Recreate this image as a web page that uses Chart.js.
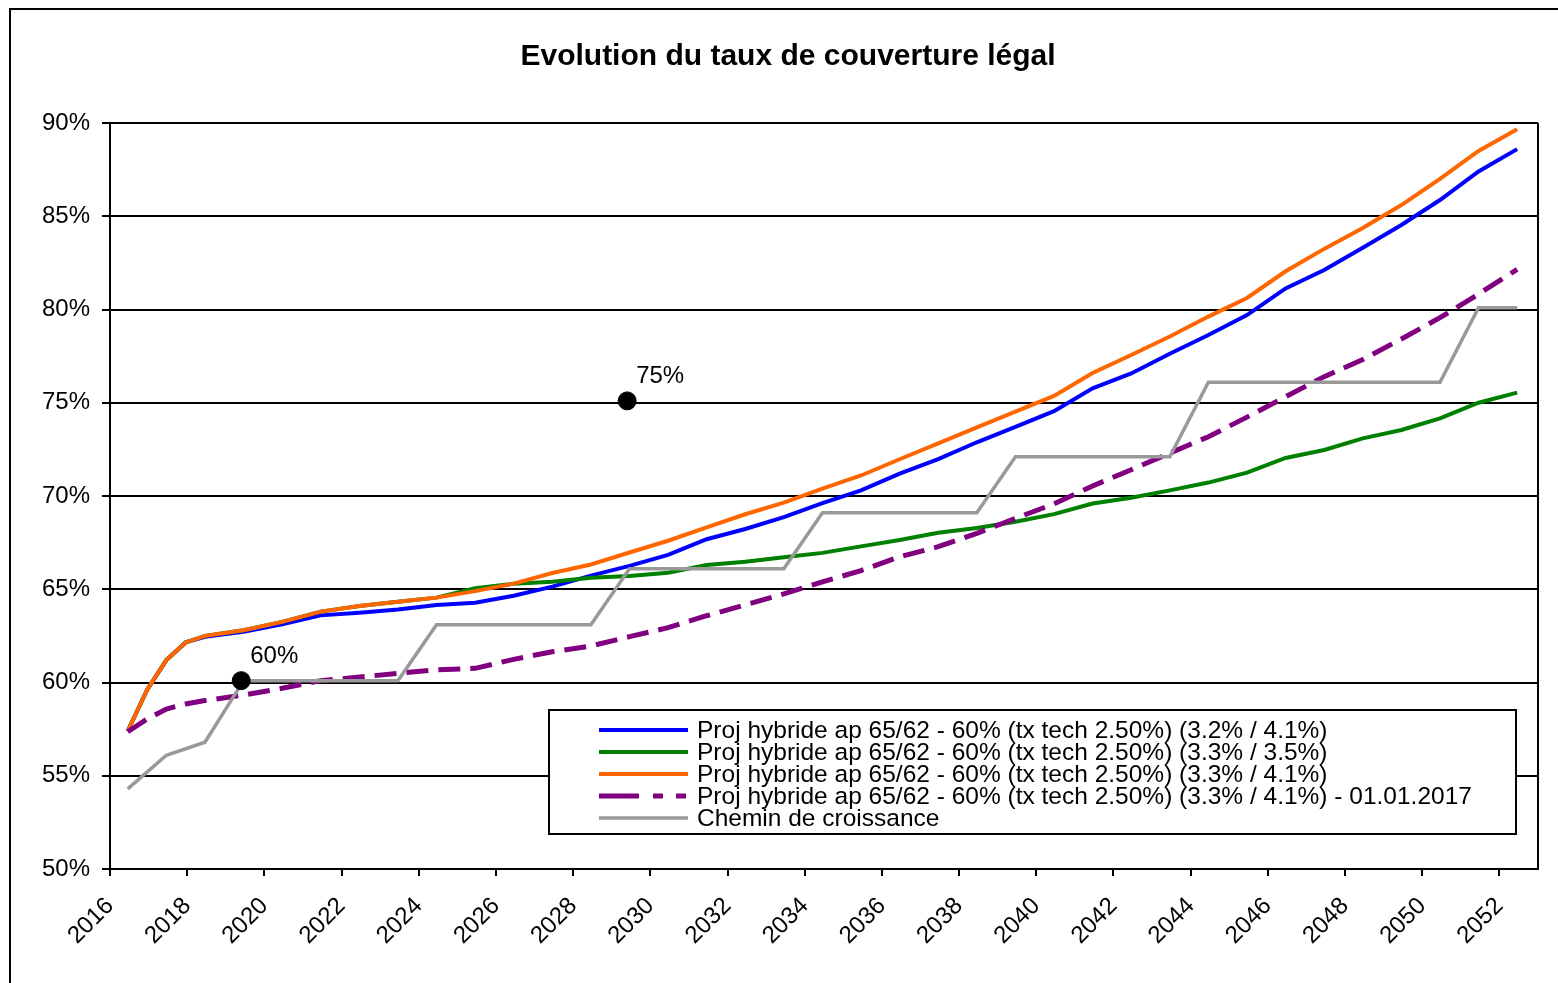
<!DOCTYPE html>
<html><head><meta charset="utf-8">
<script src="https://cdn.jsdelivr.net/npm/chart.js@4.4.1/dist/chart.umd.min.js"></script>
<style>html,body{margin:0;padding:0;background:#fff;}#wrap{width:1558px;height:983px;position:relative;}</style>
</head><body><div id="wrap"><canvas id="c" width="1558" height="983"></canvas></div>
<script>
const TITLE = 'Evolution du taux de couverture légal';
const years = [2016,2017,2018,2019,2020,2021,2022,2023,2024,2025,2026,2027,2028,2029,2030,2031,2032,2033,2034,2035,2036,2037,2038,2039,2040,2041,2042,2043,2044,2045,2046,2047,2048,2049,2050,2051,2052];
const xGrey = years.map(y => y + 0.46);
const xLines = [2016.46, 2016.96, 2017.46, 2017.96].concat(years.slice(2).map(y => y + 0.46));

const seriesLabels = [
  'Proj hybride ap 65/62 - 60% (tx tech 2.50%) (3.2% / 4.1%)',
  'Proj hybride ap 65/62 - 60% (tx tech 2.50%) (3.3% / 3.5%)',
  'Proj hybride ap 65/62 - 60% (tx tech 2.50%) (3.3% / 4.1%)',
  'Proj hybride ap 65/62 - 60% (tx tech 2.50%) (3.3% / 4.1%) - 01.01.2017',
  'Chemin de croissance'
];

const blue = [57.4,59.6,61.2,62.15,62.45,62.72,63.12,63.6,63.74,63.92,64.15,64.28,64.65,65.14,65.73,66.25,66.84,67.68,68.23,68.87,69.62,70.3,71.2,71.98,72.88,73.71,74.55,75.77,76.57,77.63,78.63,79.7,81.13,82.12,83.31,84.53,85.87,87.4,88.6];
const green = [57.4,59.6,61.2,62.15,62.5,62.8,63.25,63.8,64.1,64.33,64.55,65.05,65.3,65.4,65.62,65.71,65.89,66.3,66.47,66.72,66.95,67.3,67.64,68.03,68.28,68.62,69.03,69.6,69.91,70.3,70.72,71.25,72.04,72.47,73.09,73.54,74.16,75.0,75.54];
const orange = [57.4,59.6,61.2,62.15,62.5,62.8,63.25,63.8,64.1,64.33,64.55,64.9,65.3,65.87,66.33,66.97,67.6,68.32,69.02,69.64,70.4,71.1,71.97,72.82,73.68,74.52,75.37,76.6,77.56,78.55,79.62,80.62,82.05,83.25,84.37,85.6,87.0,88.5,89.66];
const purple = [57.36,58.04,58.58,58.85,59.03,59.33,59.69,60.1,60.29,60.49,60.68,60.76,61.24,61.65,61.96,62.46,62.94,63.58,64.16,64.75,65.4,66.0,66.74,67.28,68.0,68.8,69.58,70.54,71.41,72.3,73.18,74.23,75.32,76.4,77.32,78.42,79.56,80.83,82.15];
const grey = [54.3,56.1,56.8,60.1,60.1,60.1,60.1,60.1,63.1,63.1,63.1,63.1,63.1,66.1,66.1,66.1,66.1,66.1,69.1,69.1,69.1,69.1,69.1,72.1,72.1,72.1,72.1,72.1,76.1,76.1,76.1,76.1,76.1,76.1,76.1,80.1,80.1];

const markerX = [2019.4, 2029.4];
const markerY = [60.1, 75.1];
const markerLabels = ['60%', '75%'];

const yTicks = [50,55,60,65,70,75,80,85,90];

const FONT = "'Liberation Sans', Arial, sans-serif";
const pts = (xs, ys) => ys.map((v, i) => ({x: xs[i], y: v}));

const lineDs = (label, xs, ys, color, width, order, extra) => Object.assign({
  label, data: pts(xs, ys), borderColor: color, backgroundColor: color,
  borderWidth: width, pointRadius: 0, tension: 0, fill: false, order
}, extra || {});

const datasets = [
  lineDs(seriesLabels[0], xLines, blue, '#0000FF', 4, 5),
  lineDs(seriesLabels[1], xLines, green, '#008000', 4, 4),
  lineDs(seriesLabels[2], xLines, orange, '#FF6600', 4, 3),
  lineDs(seriesLabels[3], xLines, purple, '#800080', 5, 2, {borderDash: [22, 10], legendDash: [40, 14, 10, 13, 10], borderCapStyle: 'butt'}),
  lineDs(seriesLabels[4], xGrey, grey, '#999999', 3.5, 1),
  {label: 'markers', data: pts(markerX, markerY), showLine: false, pointRadius: 9, pointHoverRadius: 9,
   pointBackgroundColor: '#000', pointBorderColor: '#000', borderColor: '#000', backgroundColor: '#000', order: 0, isMarker: true}
];

const extras = {
  id: 'extras',
  beforeDraw(chart) {
    const ctx = chart.ctx;
    ctx.save();
    ctx.fillStyle = '#fff';
    ctx.fillRect(0, 0, chart.width, chart.height);
    ctx.fillStyle = '#000';
    ctx.fillRect(9, 8, 2, chart.height - 8);
    ctx.fillRect(9, 8, chart.width - 9, 2);
    ctx.font = 'bold 30px ' + FONT;
    ctx.textAlign = 'center';
    ctx.textBaseline = 'middle';
    ctx.fillText(TITLE, 788, 57);
    ctx.restore();
  },
  afterDatasetsDraw(chart) {
    const ctx = chart.ctx, xs = chart.scales.x, ys = chart.scales.y, a = chart.chartArea;
    ctx.save();
    ctx.strokeStyle = '#000';
    ctx.lineWidth = 2;
    ctx.beginPath();
    ctx.moveTo(a.right, a.top); ctx.lineTo(a.right, a.bottom);
    ctx.stroke();
    ctx.fillStyle = '#000';
    ctx.font = '24px ' + FONT;
    ctx.textBaseline = 'alphabetic';
    ctx.textAlign = 'left';
    markerLabels.forEach((t, i) => {
      const px = xs.getPixelForValue(markerX[i]);
      const py = ys.getPixelForValue(markerY[i]);
      ctx.fillText(t, px + 9, py - 18);
    });
    ctx.restore();
  },
  afterDraw(chart) {
    const ctx = chart.ctx;
    const bx = 549, by = 710, bw = 967, bh = 124;
    ctx.save();
    ctx.fillStyle = '#fff';
    ctx.fillRect(bx, by, bw, bh);
    ctx.strokeStyle = '#000';
    ctx.lineWidth = 2;
    ctx.strokeRect(bx, by, bw, bh);
    ctx.font = '24.5px ' + FONT;
    ctx.textBaseline = 'middle';
    ctx.textAlign = 'left';
    let row = 0;
    chart.data.datasets.forEach(ds => {
      if (ds.isMarker) return;
      const yy = by + 20 + row * 22;
      ctx.save();
      ctx.strokeStyle = ds.borderColor;
      ctx.lineWidth = ds.borderWidth;
      ctx.lineCap = 'butt';
      ctx.setLineDash(ds.legendDash || []);
      ctx.beginPath();
      ctx.moveTo(599, yy); ctx.lineTo(688, yy);
      ctx.stroke();
      ctx.restore();
      ctx.fillStyle = '#000';
      ctx.fillText(ds.label, 697, yy + 1);
      row++;
    });
    ctx.restore();
  }
};

new Chart(document.getElementById('c'), {
  type: 'line',
  data: {datasets},
  plugins: [extras],
  options: {
    responsive: false, animation: false, devicePixelRatio: 1,
    layout: {padding: {left: 0, right: 20, top: 123, bottom: 0}},
    plugins: {
      legend: {display: false},
      tooltip: {enabled: false},
      title: {display: false}
    },
    scales: {
      x: {
        type: 'linear', min: 2016, max: 2053,
        afterBuildTicks: s => { s.ticks = years.filter(y => y % 2 === 0).map(v => ({value: v})); },
        afterFit: s => { s.height = 114; },
        ticks: {stepSize: 2, autoSkip: false, maxRotation: 45, minRotation: 45, color: '#000',
                font: {family: FONT, size: 24}, callback: v => String(v), padding: 16},
        grid: {drawOnChartArea: false, drawTicks: true, tickLength: 7, color: '#000', lineWidth: 2},
        border: {display: true, color: '#000', width: 2}
      },
      y: {
        min: 50, max: 90,
        afterBuildTicks: s => { s.ticks = yTicks.map(v => ({value: v})); },
        afterFit: s => { s.width = 110; },
        ticks: {stepSize: 5, color: '#000', font: {family: FONT, size: 24}, callback: v => v + '%', padding: 12},
        grid: {color: '#000', lineWidth: 2, tickLength: 8, drawTicks: true},
        border: {display: true, color: '#000', width: 2}
      }
    }
  }
});
</script></body></html>
